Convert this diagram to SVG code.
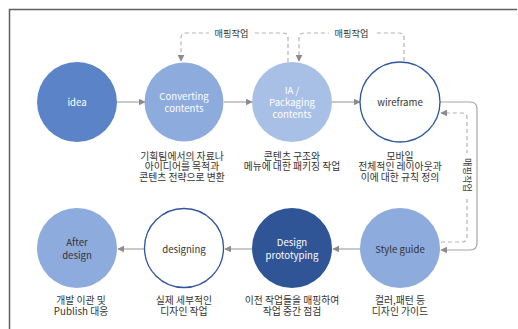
<svg xmlns="http://www.w3.org/2000/svg" width="518" height="329" viewBox="0 0 518 329">
  <style>
    text { font-family: "Noto Sans CJK KR", "Noto Sans", sans-serif; font-size: 9.6px; text-anchor: middle; }
    .in-light { fill: #ffffff; }
    .in-dark { fill: #333333; }
    .cap { fill: #333333; font-size: 9.8px; }
    .solid { fill: none; stroke: #a6a6a6; stroke-width: 1.2; }
    .dash { fill: none; stroke: #b3b3b3; stroke-width: 1.2; stroke-dasharray: 4 3; }
    .edge-label { fill: #333333; font-size: 9.2px; }
  </style>
  <defs>
    <marker id="arr" viewBox="0 0 10 10" refX="9" refY="5" markerWidth="7" markerHeight="7" orient="auto" markerUnits="userSpaceOnUse">
      <path d="M0,0 L10,5 L0,10 z" fill="#8c8c8c"/>
    </marker>
  </defs>

  <rect width="518" height="329" fill="#ffffff"/>
  <!-- frame -->
  <path d="M9.5,329 V9.5 H517" fill="none" stroke="#5f5f5f" stroke-width="1.5"/>

  <g id="connectors">
    <!-- row 1, left to right -->
    <line class="solid" x1="117" y1="102" x2="145" y2="102" marker-end="url(#arr)"/>
    <line class="solid" x1="224" y1="102" x2="252" y2="102" marker-end="url(#arr)"/>
    <line class="solid" x1="332" y1="102" x2="360" y2="102" marker-end="url(#arr)"/>
    <!-- wireframe to style guide -->
    <path class="solid" d="M440,102 H470 Q477,102 477,109 V243 Q477,250 470,250 H441" marker-end="url(#arr)"/>
    <!-- row 2, right to left -->
    <line class="solid" x1="361" y1="249" x2="333" y2="249" marker-end="url(#arr)"/>
    <line class="solid" x1="252" y1="249" x2="225" y2="249" marker-end="url(#arr)"/>
    <line class="solid" x1="144" y1="249" x2="118" y2="249" marker-end="url(#arr)"/>
    <!-- mapping feedback loops -->
    <path class="dash" d="M288,62 V38 Q288,33 283,33 H186 Q181,33 181,38 V61" marker-end="url(#arr)"/>
    <path class="dash" d="M404,61 V38 Q404,33 399,33 H304 Q299,33 299,38 V61" marker-end="url(#arr)"/>
    <path class="dash" d="M441,242 H462 Q467,242 467,237 V118 Q467,113 462,113 H441" marker-end="url(#arr)"/>
    <!-- loop labels -->
    <rect x="209" y="26" width="45" height="14" fill="#ffffff"/>
    <text class="edge-label" x="231.5" y="36.5">매핑작업</text>
    <rect x="329" y="26" width="45" height="14" fill="#ffffff"/>
    <text class="edge-label" x="351.5" y="36.5">매핑작업</text>
    <rect x="459" y="153" width="16" height="44" fill="#ffffff"/>
    <text class="edge-label" transform="translate(467,175) rotate(90)" x="0" y="3.3">매핑작업</text>
  </g>

  <g id="idea">
    <circle cx="77" cy="102" r="40" fill="#5b84c8"/>
    <text class="in-light" x="77" y="106">idea</text>
  </g>

  <g id="converting">
    <circle cx="184" cy="102" r="39.5" fill="#8eabdd"/>
    <text class="in-light" x="184" y="100">Converting</text>
    <text class="in-light" x="184" y="112">contents</text>
    <text class="cap" x="182" y="159.5">기획팀에서의 자료나<tspan x="182" dy="10.6">아이디어를 목적과</tspan><tspan x="182" dy="10.6">콘텐츠 전략으로 변환</tspan></text>
  </g>

  <g id="ia-packaging">
    <circle cx="292" cy="102" r="40" fill="#a9c0e6"/>
    <text class="in-light" x="292" y="94">IA /</text>
    <text class="in-light" x="292" y="106">Packaging</text>
    <text class="in-light" x="292" y="118">contents</text>
    <text class="cap" x="292" y="159.5">콘텐츠 구조와<tspan x="292" dy="10.6">메뉴에 대한 패키징 작업</tspan></text>
  </g>

  <g id="wireframe">
    <circle cx="400" cy="102" r="40" fill="#ffffff" stroke="#2f55a0" stroke-width="1.3"/>
    <text class="in-dark" x="400" y="106">wireframe</text>
    <text class="cap" x="400" y="159.5">모바일<tspan x="400" dy="10.6">전체적인 레이아웃과</tspan><tspan x="400" dy="10.6">이에 대한 규칙 정의</tspan></text>
  </g>

  <g id="style-guide">
    <circle cx="400" cy="248" r="40" fill="#8eabdd"/>
    <text class="in-dark" x="400" y="253">Style guide</text>
    <text class="cap" x="400" y="304">컬러,패턴 등<tspan x="400" dy="11">디자인 가이드</tspan></text>
  </g>

  <g id="design-prototyping">
    <circle cx="292" cy="248" r="40" fill="#2f5597"/>
    <text class="in-light" x="292" y="246">Design</text>
    <text class="in-light" x="292" y="259">prototyping</text>
    <text class="cap" x="292" y="304">이전 작업들을 매핑하여<tspan x="292" dy="11">작업 중간 점검</tspan></text>
  </g>

  <g id="designing">
    <circle cx="184" cy="248" r="39.5" fill="#ffffff" stroke="#2f55a0" stroke-width="1.3"/>
    <text class="in-dark" x="184" y="253">designing</text>
    <text class="cap" x="184" y="304">실제 세부적인<tspan x="184" dy="11">디자인 작업</tspan></text>
  </g>

  <g id="after-design">
    <circle cx="77" cy="248" r="40" fill="#8eabdd"/>
    <text class="in-dark" x="77" y="246">After</text>
    <text class="in-dark" x="77" y="259">design</text>
    <text class="cap" x="81" y="304">개발 이관 및<tspan x="81" dy="11">Publish 대응</tspan></text>
  </g>
</svg>
